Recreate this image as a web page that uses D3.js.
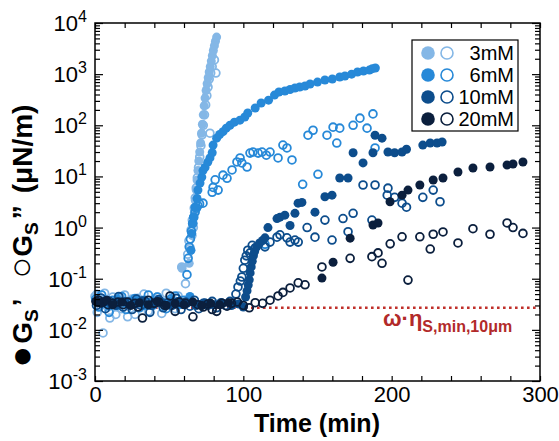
<!DOCTYPE html>
<html>
<head>
<meta charset="utf-8">
<script src="https://cdn.jsdelivr.net/npm/d3@7"></script>
<style>
  body { margin: 0; background: #fff; }
  svg { display: block; font-family: Arial, "Liberation Sans", sans-serif; }
</style>
</head>
<body>
<svg id="chart" width="559" height="441"></svg>
<script>
// Surface storage modulus G_S' (filled) and loss modulus G_S'' (open), [time (min), value (uN/m)]
const gp3 = [[1,0.05],[6,0.04],[11,0.032],[17,0.045],[23,0.036],[29,0.042],[35,0.03],[41,0.04],[47,0.034],[53,0.038],[58.6,0.16],
  [63.5,0.2],[64.7,0.36],[65.5,0.7],[66.3,1.2],[67,2],[67.6,3.4],[68.2,5.5],[68.8,8.5],[69.4,13],[70,20],[70.6,30],[71.2,45],
  [71.8,70],[72.4,105],[73,160],[73.6,240],[74.2,340],[74.9,480],[75.6,650],[76.3,850],[77,1100],[77.7,1400],[78.4,1800],
  [79.1,2300],[79.8,2900],[80.5,3600],[81.2,4400],[82,5300]];
const gpp3 = [[0,0.045],[1.5,0.022],[3,0.03],[5.4,0.0087],[6.5,0.052],[8.5,0.028],[10,0.017],[12,0.044],[14,0.02],[16,0.036],
  [18,0.026],[20,0.048],[22,0.018],[25,0.04],[27,0.02],[30,0.032],[33,0.05],[36,0.023],[39,0.036],[42,0.044],[45,0.021],
  [48,0.052],[51,0.03],[54,0.026],[56,0.046],[58.5,0.17],[61,0.08],[62.5,0.3],[63.3,0.55],[64.2,0.4],[64.8,0.9],[65.6,1.4],
  [66.3,1.0],[66.9,2.4],[67.6,3.8],[68.3,6],[69,9.5],[69.8,15],[70.6,24],[71.4,40],[72.2,65],[73,100],[73.8,160],[74.6,250],
  [75.4,380],[76.2,560],[77,800],[77.5,70],[78,1050],[79,1400],[80.5,1900],[81.5,1050]];

const gp6 = [[3,0.036],[9,0.03],[15,0.04],[21,0.033],[27,0.038],[33,0.03],[39,0.035],[45,0.032],[51,0.037],[57,0.031],[64,0.045],
  [64.6,0.36],[65.2,0.77],[65.8,1.2],[66.4,1.6],[67.4,2.5],[68.8,3.7],[69.4,5.4],[70.8,7.4],[72,9.7],[72.8,13],[74.2,15],[76,19],
  [77.5,23],[79,29],[79.6,41],[82,56],[84,66],[86.3,75],[88.5,88],[91,100],[94,115],[97.7,126],[101,145],[103,174],[108,218],
  [112,273],[117,310],[121,390],[124,448],[128,468],[131.5,500],[134.8,537],[138,560],[141.6,585],[145,640],[150,700],[155,770],
  [160,805],[165,880],[168.5,920],[173,1000],[177,1100],[181,1150],[185,1200],[187,1280],[189,1320]];
const gpp6 = [[0.5,0.04],[2.5,0.028],[4.5,0.048],[7,0.033],[9.5,0.022],[12,0.038],[15,0.03],[18,0.045],[21,0.025],[24,0.036],
  [27,0.041],[30,0.027],[33,0.038],[36,0.048],[39,0.03],[42,0.044],[45,0.035],[48,0.026],[51,0.04],[54,0.046],[57,0.032],[60,0.038],
  [62,0.12],[62.8,0.25],[63.5,0.42],[64.3,0.6],[65,0.85],[65.8,1.2],[66.6,1.6],[67.5,2.0],[68.4,2.4],[69.3,2.7],[70.5,2.9],[72.8,3.0],
  [79,4.9],[79.6,6.1],[81,8.6],[83,5.4],[86.3,10.6],[89,9.2],[92.4,13.4],[95.7,19.2],[97.8,23],[99,18.4],[102.5,15.3],[104.5,28.6],
  [106.5,30],[110,28.6],[112.6,30],[114.6,0.47],[115.5,26],[118,30],[123.4,23],[126.7,41],[129.4,36],[132.8,21],[140,7.0],
  [143.6,64],[147,80],[150.3,11],[156.4,64],[160.5,92],[163,45],[165,88],[174,100],[178.6,138],[183.4,88],[187.4,167],[188.8,36]];

const gp10 = [[2,0.034],[8,0.038],[14,0.03],[20,0.036],[26,0.032],[32,0.037],[38,0.03],[44,0.035],[50,0.031],[56,0.036],[62,0.033],
  [68,0.03],[74,0.034],[80,0.031],[86,0.033],[92,0.03],[97,0.032],[100,0.028],[101.5,0.044],[102.5,0.058],[103.3,0.075],[104,0.095],
  [104.6,0.13],[105.3,0.17],[106,0.22],[106.8,0.28],[107.6,0.34],[109,0.42],[111,0.5],[113,0.56],[114.6,0.63],[116.6,1.0],
  [122.7,1.5],[124.7,1.6],[128,1.75],[131.5,1.1],[134.8,1.9],[136.9,3.0],[139.5,3.1],[148.3,2.0],[155,4.0],[159.8,4.3],[165,9.3],
  [170.6,9.3],[174,29],[180.7,18.4],[187.4,29],[188.8,64],[193.5,56],[197.5,30],[202,29],[207,30],[210,34],[221,41],[226,45],
  [230.6,45],[234,47]];
const gpp10 = [[1,0.03],[4,0.042],[7,0.026],[10,0.036],[13,0.031],[16,0.045],[19,0.028],[22,0.034],[25,0.025],[28,0.04],[31,0.03],
  [34,0.036],[37,0.022],[40,0.033],[43,0.039],[46,0.027],[49,0.034],[52,0.03],[55,0.041],[58,0.025],[61,0.035],[64,0.029],[67,0.038],
  [70,0.026],[73,0.033],[76,0.03],[79,0.036],[82,0.027],[85,0.034],[88,0.03],[91,0.036],[93,0.033],[95,0.05],[96.4,0.069],[98,0.09],
  [99,0.108],[100,0.16],[101,0.23],[102,0.28],[103,0.36],[104.5,0.32],[106,0.45],[108,0.4],[114.6,0.42],[118,0.52],[122.7,0.65],
  [124.7,0.72],[129.4,0.63],[131.5,0.52],[134.8,0.57],[137,0.52],[143,1.0],[148.3,0.65],[155,1.4],[159.8,0.57],[167.2,1.5],
  [170.6,0.83],[174,1.9],[180.7,6.8],[186.7,1.4],[188.8,6.8],[197,4.3],[197.5,5.9],[202,3.9],[207,3.0],[210,2.5],[221,3.9],
  [228,5.4],[232.6,3.2]];

const gp20 = [[0.5,0.036],[4,0.033],[8,0.038],[12,0.031],[18,0.035],[24,0.03],[30,0.034],[36,0.031],[42,0.036],[48,0.03],[54,0.033],
  [60,0.031],[66,0.035],[72,0.03],[78,0.033],[84,0.031],[90,0.034],[153,0.103],[160.5,0.21],[172,0.62],[187.4,1.12],[190.8,1.23],
  [198.9,3.2],[207,4.3],[211,5.4],[219,6.8],[228,8.5],[234.6,9.3],[244.7,12.2],[254.8,14.6],[266.3,15.3],[277.8,16.7],[281.8,17.5],
  [288.5,19.1]];
const gpp20 = [[1,0.036],[2.5,0.038],[5.4,0.035],[8.8,0.031],[12,0.033],[15.5,0.035],[19,0.031],[22,0.035],[27,0.033],[29,0.028],
  [32,0.017],[36,0.038],[40,0.033],[43,0.035],[47,0.03],[50.6,0.046],[54,0.023],[57,0.035],[61,0.033],[66,0.018],[69.4,0.031],
  [73,0.028],[76,0.032],[79,0.025],[82,0.023],[85.6,0.033],[89,0.029],[92,0.033],[96,0.035],[100,0.03],[104,0.027],[108,0.034],
  [113,0.033],[118,0.038],[123.4,0.046],[126.7,0.054],[131.5,0.066],[137,0.083],[141.6,0.076],[153,0.17],[172,0.25],[186.7,0.27],
  [190.8,0.32],[193.5,0.2],[199,0.48],[207,0.66],[211,0.094],[219,0.66],[226,0.38],[228,0.74],[234.6,0.82],[244.7,0.5],[254.8,0.95],
  [266.3,0.74],[277.8,1.23],[281.8,1.0],[288.5,0.77]];

const concentrations = ["3mM", "6mM", "10mM", "20mM"];
const storageSeries = [gp3, gp6, gp10, gp20];
const lossSeries = [gpp3, gpp6, gpp10, gpp20];
const seriesColors = ["#84b7e6", "#2789d8", "#0d4d8c", "#0b1f3d"];

// Minimum measurable modulus (subphase viscosity limit)
const thresholdValue = 0.027;

const xTickValues = d3.range(0, 301, 20);
const xLabelValues = [0, 100, 200, 300];
const decades = [-3, -2, -1, 0, 1, 2, 3, 4];

const svg = d3.select("#chart");
const plotLeft = 95, plotRight = 540, plotTop = 23, plotBottom = 381;

const x = d3.scaleLinear().domain([0, 300]).range([plotLeft, plotRight]);
const y = d3.scaleLog().domain([1e-3, 1e4]).range([plotBottom, plotTop]);

const minorY = [];
decades.slice(0, -1).forEach(k => { for (let m = 2; m <= 9; m++) minorY.push(m * Math.pow(10, k)); });
const majorY = decades.map(k => Math.pow(10, k));

// Threshold line
svg.append("line")
  .attr("x1", x(0)).attr("x2", x(300))
  .attr("y1", y(thresholdValue)).attr("y2", y(thresholdValue))
  .attr("stroke", "#c0302b").attr("stroke-width", 2.6)
  .attr("stroke-dasharray", "2.6,3.4");

// Markers
const plot = svg.append("g");
concentrations.forEach((c, i) => {
  plot.append("g").selectAll("circle").data(lossSeries[i]).join("circle")
    .attr("cx", d => x(d[0])).attr("cy", d => y(d[1])).attr("r", 3.9)
    .attr("fill", "none").attr("stroke", seriesColors[i]).attr("stroke-width", 1.8);
  plot.append("g").selectAll("circle").data(storageSeries[i]).join("circle")
    .attr("cx", d => x(d[0])).attr("cy", d => y(d[1])).attr("r", 4.5)
    .attr("fill", seriesColors[i]);
});

// Axes with inward ticks
function styleAxis(g) {
  g.select(".domain").remove();
  g.selectAll(".tick line").attr("stroke", "#000").attr("stroke-width", 1.2);
}
svg.append("g").attr("transform", `translate(0,${plotBottom})`)
  .call(d3.axisBottom(x).tickValues(xTickValues).tickSize(-5).tickPadding(5)
    .tickFormat(d => xLabelValues.includes(d) ? d : ""))
  .call(styleAxis)
  .call(g => g.selectAll("text").attr("font-size", 22).attr("fill", "#000").attr("font-family", "Arial, 'Liberation Sans', sans-serif"));
svg.append("g").attr("transform", `translate(0,${plotTop})`)
  .call(d3.axisTop(x).tickValues(xTickValues).tickSize(-5).tickFormat(""))
  .call(styleAxis);

[[d3.axisLeft, plotLeft], [d3.axisRight, plotRight]].forEach(([axisFn, pos]) => {
  svg.append("g").attr("transform", `translate(${pos},0)`)
    .call(axisFn(y).tickValues(minorY).tickSize(-5).tickFormat(""))
    .call(styleAxis);
  svg.append("g").attr("transform", `translate(${pos},0)`)
    .call(axisFn(y).tickValues(majorY).tickSize(-8).tickFormat(""))
    .call(styleAxis);
});

// Decade labels with superscript exponents
const yLabels = svg.append("g").attr("font-size", 22).attr("fill", "#000");
decades.forEach(k => {
  const t = yLabels.append("text").attr("x", 87).attr("y", y(Math.pow(10, k)) + 8).attr("text-anchor", "end");
  t.append("tspan").text("10");
  t.append("tspan").attr("font-size", 16).attr("dy", -9).text(k);
});

// Frame
svg.append("rect").attr("x", plotLeft).attr("y", plotTop).attr("width", plotRight - plotLeft).attr("height", plotBottom - plotTop)
  .attr("fill", "none").attr("stroke", "#000").attr("stroke-width", 1.5);

// Axis titles
svg.append("text").attr("x", 317).attr("y", 432).attr("text-anchor", "middle")
  .attr("font-size", 25).attr("font-weight", "bold").text("Time (min)");

const yTitle = svg.append("text")
  .attr("transform", "translate(32,236) rotate(-90)")
  .attr("text-anchor", "middle").attr("font-size", 28).attr("font-weight", "bold");
yTitle.append("tspan").attr("font-size", 36).attr("dy", 1).text("\u25CF");
yTitle.append("tspan").attr("dy", -1).attr("dx", 2).text("G");
yTitle.append("tspan").attr("font-size", 19).attr("dy", 6).text("S");
yTitle.append("tspan").attr("dy", -6).attr("dx", 3).text("\u2019");
yTitle.append("tspan").attr("font-size", 36).attr("font-weight", "normal").attr("dx", 20).attr("dy", 1).text("\u25CB");
yTitle.append("tspan").attr("dy", -1).text("G");
yTitle.append("tspan").attr("font-size", 19).attr("dy", 6).text("S");
yTitle.append("tspan").attr("dy", -6).attr("dx", 3).text("\u201D");
yTitle.append("tspan").attr("dx", 12).text("(\u03BCN/m)");

// Threshold label
const thr = svg.append("text").attr("x", 383).attr("y", 326)
  .attr("fill", "#b22a2a").attr("font-weight", "bold").attr("font-size", 22);
thr.append("tspan").text("\u03C9\u00B7\u03B7");
thr.append("tspan").attr("font-size", 16).attr("dy", 6).text("S,min,10\u03BCm");

// Legend
const legend = svg.append("g");
legend.append("rect").attr("x", 412).attr("y", 40).attr("width", 106).attr("height", 91)
  .attr("fill", "#fff").attr("stroke", "#000").attr("stroke-width", 1.2);
const rowY = d3.scalePoint().domain(concentrations).range([53, 119]);
concentrations.forEach((c, i) => {
  const cy = rowY(c);
  legend.append("circle").attr("cx", 428).attr("cy", cy).attr("r", 6.8).attr("fill", seriesColors[i]);
  legend.append("circle").attr("cx", 447).attr("cy", cy).attr("r", 6).attr("fill", "none")
    .attr("stroke", seriesColors[i]).attr("stroke-width", 1.6);
  legend.append("text").attr("x", 514).attr("y", cy + 7).attr("text-anchor", "end")
    .attr("font-size", 20).text(c);
});
</script>
</body>
</html>
